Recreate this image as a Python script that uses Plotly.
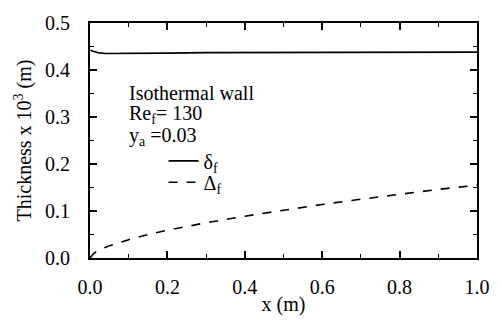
import plotly.graph_objects as go

# Data
x_delta = [0.0, 0.01, 0.02, 0.04, 0.06, 0.1, 0.2, 0.3, 0.4, 0.5, 0.6, 0.7, 0.8, 0.9, 1.0]
delta_f = [0.442, 0.440, 0.437, 0.435, 0.435, 0.435, 0.436, 0.437, 0.437, 0.438, 0.438, 0.438, 0.438, 0.438, 0.438]

x_Delta = [0.0, 0.01, 0.02, 0.05, 0.1, 0.15, 0.2, 0.3, 0.4, 0.5, 0.6, 0.7, 0.8, 0.9, 1.0]
Delta_f = [0.0, 0.010, 0.016, 0.026, 0.039, 0.050, 0.059, 0.075, 0.089, 0.102, 0.114, 0.125, 0.136, 0.146, 0.155]

x_ticks = [0.0, 0.2, 0.4, 0.6, 0.8, 1.0]
x_labels = ["0.0", "0.2", "0.4", "0.6", "0.8", "1.0"]
y_ticks = [0.0, 0.1, 0.2, 0.3, 0.4, 0.5]
y_labels = ["0.0", "0.1", "0.2", "0.3", "0.4", "0.5"]

FONT = "Times New Roman"

fig = go.Figure()
fig.add_trace(go.Scatter(x=x_delta, y=delta_f, mode="lines", name="δ<sub>f</sub>",
                         line=dict(color="black", width=1.6), legend="legend"))
fig.add_trace(go.Scatter(x=x_Delta, y=Delta_f, mode="lines", name="Δ<sub>f</sub>",
                         line=dict(color="black", width=1.6, dash="dash"), legend="legend2"))

axis_common = dict(
    showgrid=False, zeroline=False, showline=True, linecolor="black", linewidth=2,
    mirror="ticks", ticks="inside", ticklen=7, tickwidth=1.5, tickcolor="black",
    tickfont=dict(family=FONT, size=20, color="black"),
)

fig.update_xaxes(range=[0, 1], tickvals=x_ticks, ticktext=x_labels,
                 minor=dict(dtick=0.1, ticks="inside", ticklen=4, tickcolor="black", tickwidth=1.2),
                 title=dict(text="x (m)", font=dict(family=FONT, size=20, color="black"), standoff=0),
                 ticklabelstandoff=10, **axis_common)
fig.update_yaxes(range=[0, 0.5], tickvals=y_ticks, ticktext=y_labels,
                 minor=dict(dtick=0.05, ticks="inside", ticklen=4, tickcolor="black", tickwidth=1.2),
                 title=dict(text="Thickness x 10<sup>3</sup> (m)", font=dict(family=FONT, size=20, color="black"), standoff=8),
                 ticklabelstandoff=14, **axis_common)

ann = [
    ("Isothermal wall", 0.351),
    ("Re<sub>f</sub>= 130", 0.306),
    ("y<sub>a</sub> =0.03", 0.259),
]
for txt, yv in ann:
    fig.add_annotation(x=0.096, y=yv, xref="x", yref="y", text=txt, showarrow=False,
                       xanchor="left", yanchor="middle",
                       font=dict(family=FONT, size=20, color="black"))

leg_common = dict(xanchor="left", yanchor="middle", bgcolor="rgba(0,0,0,0)",
                  font=dict(family=FONT, size=20, color="black"), itemwidth=30)

fig.update_layout(
    width=502, height=327,
    margin=dict(l=90, r=15, t=16, b=69),
    paper_bgcolor="white", plot_bgcolor="white",
    font=dict(family=FONT, color="black"),
    showlegend=True,
    legend=dict(x=0.19, y=(258 - 158) / 242, **leg_common),
    legend2=dict(x=0.19, y=(258 - 180) / 242, **leg_common),
)

fig.write_html("out.html")
